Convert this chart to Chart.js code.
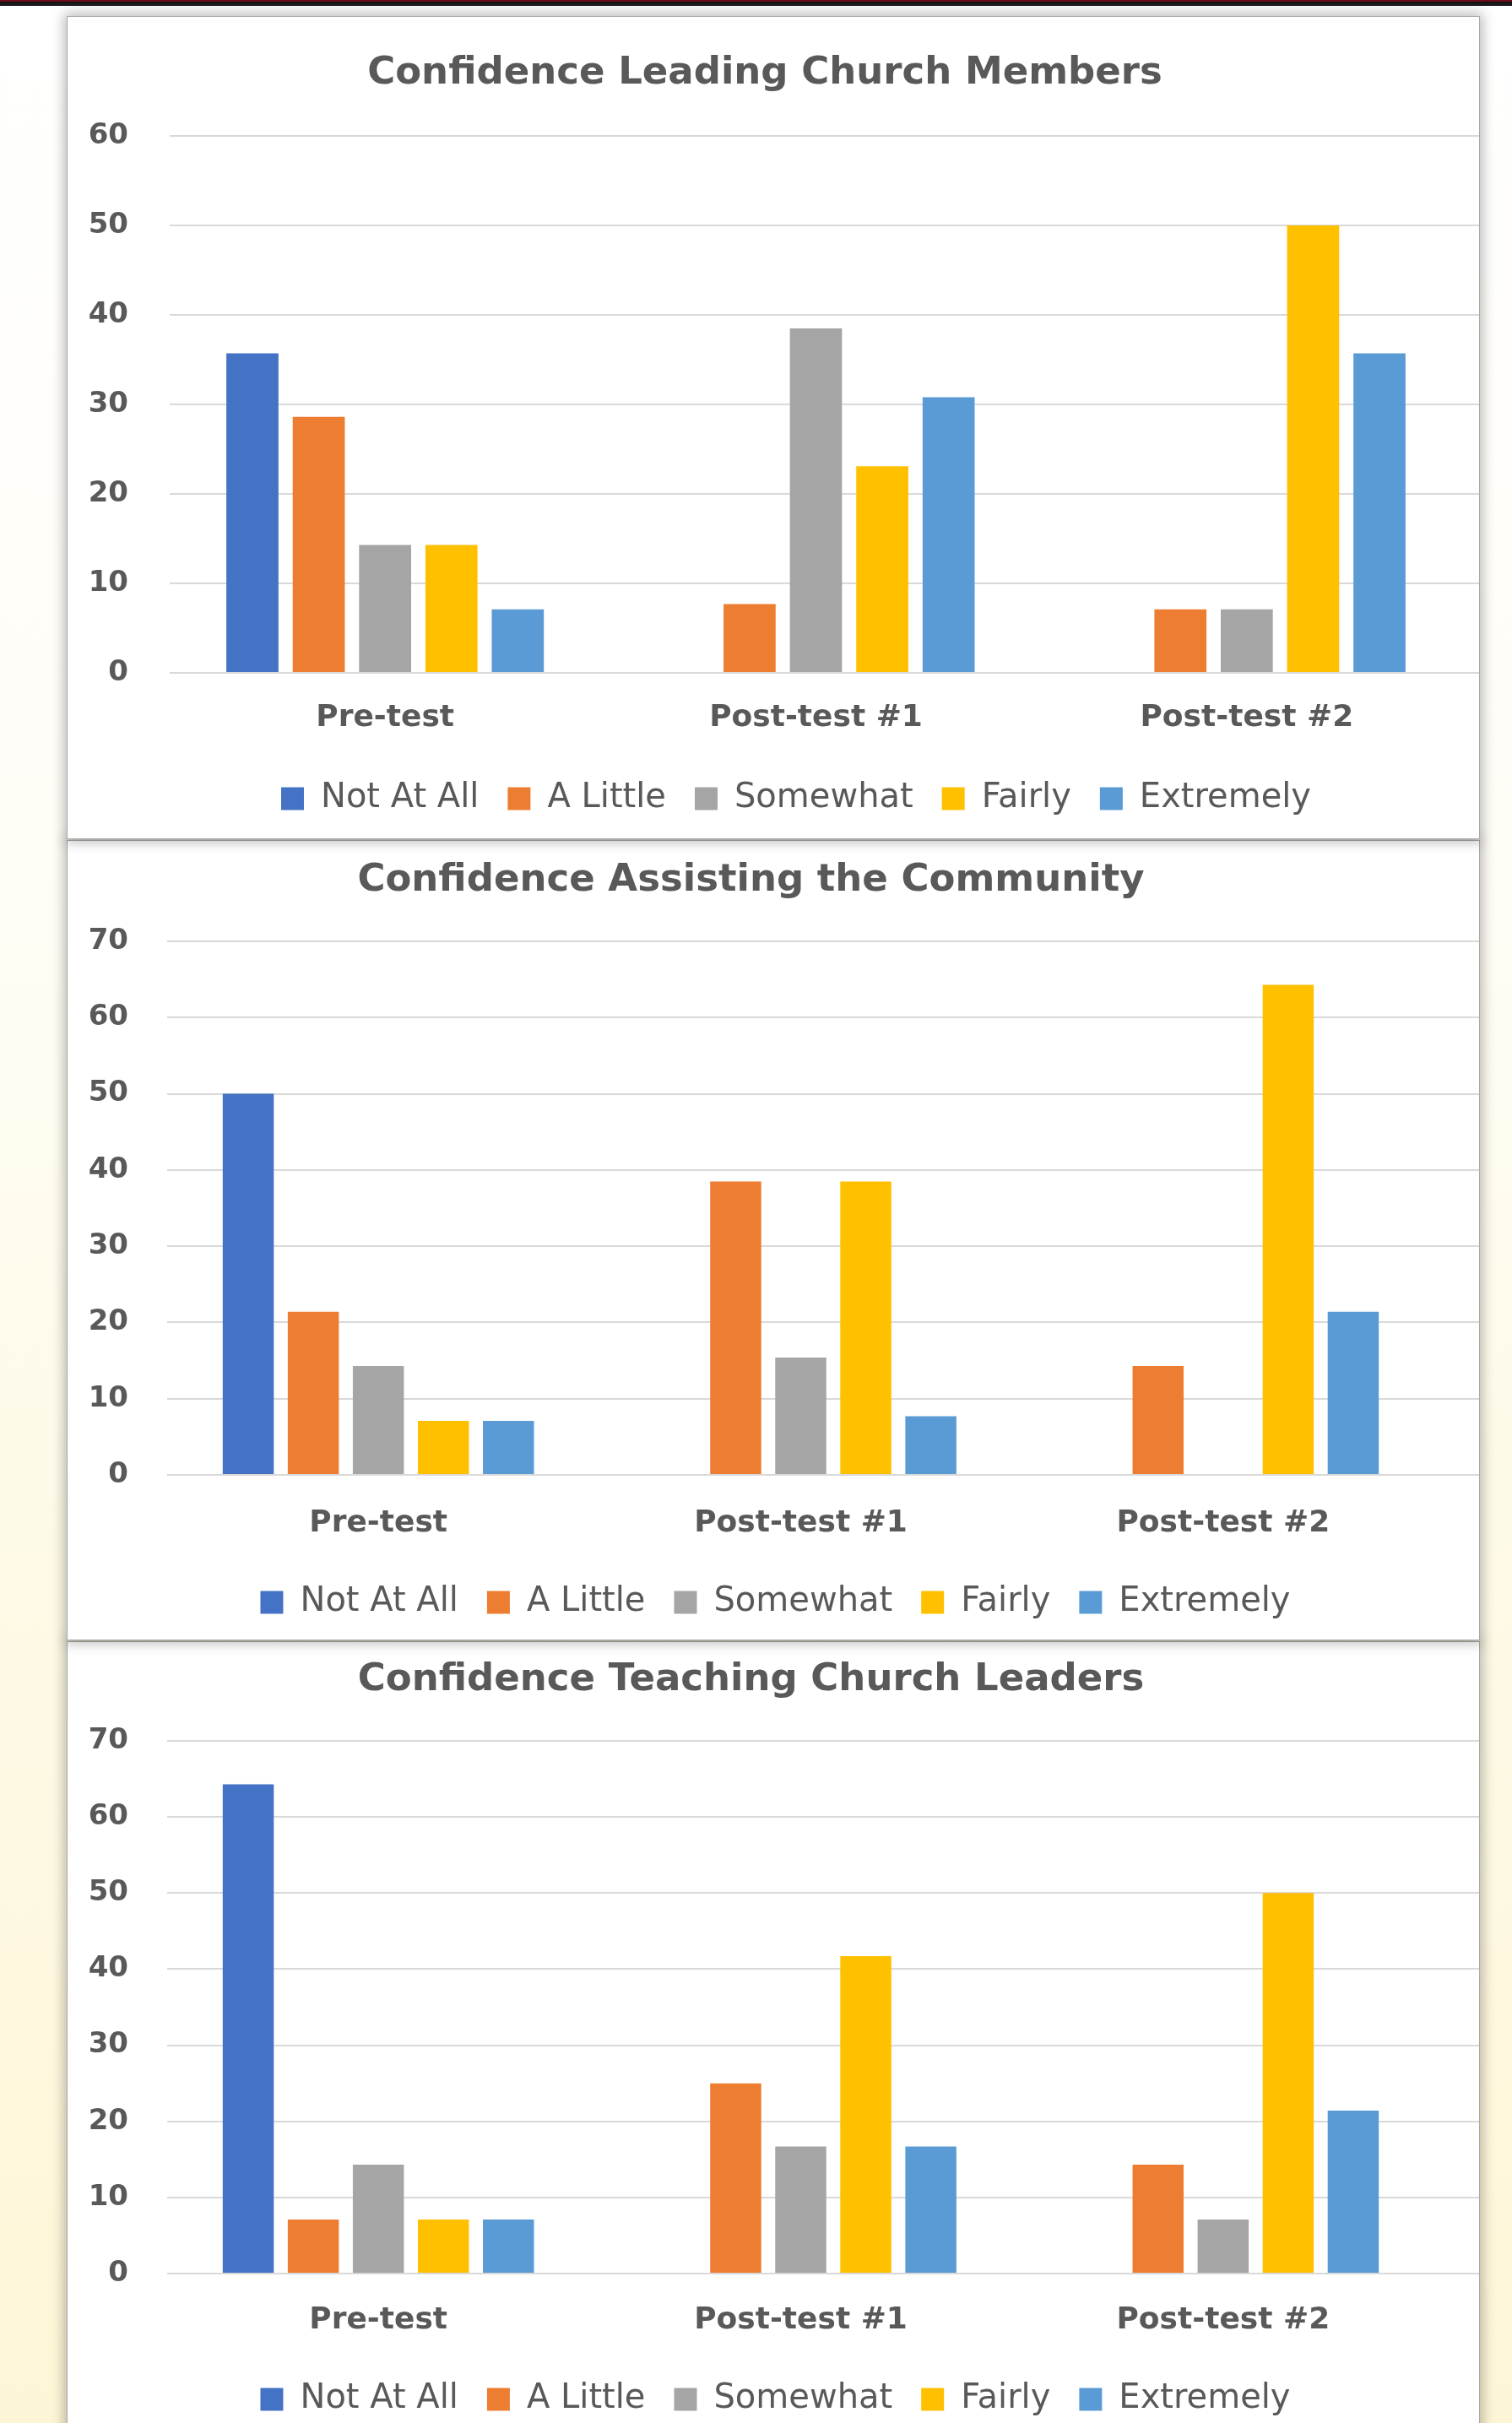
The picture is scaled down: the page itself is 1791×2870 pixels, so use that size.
<!DOCTYPE html>
<html>
<head>
<meta charset="utf-8">
<script src="https://cdn.jsdelivr.net/npm/chart.js@4.4.1/dist/chart.umd.min.js"></script>
<style>
  html, body { margin: 0; padding: 0; }
  body {
    width: 1791px; height: 2870px; overflow: hidden; position: relative;
    background: linear-gradient(to bottom, #ffffff 0%, #fffdf6 35%, #fdf6d6 100%);
    font-family: "DejaVu Sans", sans-serif;
  }
  .topbar {
    position: absolute; left: 0; top: 0; width: 1791px; height: 7px;
    background: linear-gradient(to bottom, #6b0b1c 0, #6b0b1c 2px, #111 2px, #222 7px);
    z-index: 10;
  }
  .panel {
    position: absolute; left: 80px; width: 1672px; background: #fff;
    box-shadow: 0 0 0 1px #a9a9a9, 0 0 14px 4px rgba(0,0,0,0.28);
  }
  .panel canvas { display: block; }
</style>
</head>
<body>
<div class="topbar"></div>
<div class="panel" id="p1" style="top:20px;height:973px;z-index:3"><canvas id="c1" width="1672" height="973"></canvas></div>
<div class="panel" id="p2" style="top:996px;height:946px;z-index:2"><canvas id="c2" width="1672" height="946"></canvas></div>
<div class="panel" id="p3" style="top:1945px;height:950px;z-index:1"><canvas id="c3" width="1672" height="950"></canvas></div>
<script>
// categories and series
const categories = ['Pre-test', 'Post-test #1', 'Post-test #2'];
const seriesNames = ['Not At All', 'A Little', 'Somewhat', 'Fairly', 'Extremely'];
const seriesColors = ['#4472C4', '#ED7D31', '#A5A5A5', '#FFC000', '#5B9BD5'];

// Confidence Leading Church Members (per series: pre, post1, post2)
const leadNotAtAll = [35.7, 0, 0];
const leadALittle = [28.6, 7.7, 7.1];
const leadSomewhat = [14.3, 38.5, 7.1];
const leadFairly = [14.3, 23.1, 50.0];
const leadExtremely = [7.1, 30.8, 35.7];

// Confidence Assisting the Community
const assistNotAtAll = [50.0, 0, 0];
const assistALittle = [21.4, 38.5, 14.3];
const assistSomewhat = [14.3, 15.4, 0];
const assistFairly = [7.1, 38.5, 64.3];
const assistExtremely = [7.1, 7.7, 21.4];

// Confidence Teaching Church Leaders
const teachNotAtAll = [64.3, 0, 0];
const teachALittle = [7.1, 25.0, 14.3];
const teachSomewhat = [14.3, 16.7, 7.1];
const teachFairly = [7.1, 41.7, 50.0];
const teachExtremely = [7.1, 16.7, 21.4];

const yTicks1 = [0, 10, 20, 30, 40, 50, 60];
const yTicks2 = [0, 10, 20, 30, 40, 50, 60, 70];

const textColor = '#595959';
const gridColor = '#d9d9d9';

// stretch the horizontal gridlines out to the panel edge, like the original
const gridToEdge = {
  id: 'gridToEdge',
  beforeDatasetsDraw(chart) {
    const y = chart.scales.y;
    const ctx = chart.ctx;
    ctx.save();
    ctx.strokeStyle = gridColor;
    ctx.lineWidth = 2;
    y.ticks.forEach(t => {
      const py = Math.round(y.getPixelForValue(t.value));
      ctx.beginPath();
      ctx.moveTo(chart.chartArea.right, py);
      ctx.lineTo(chart.width, py);
      ctx.stroke();
    });
    ctx.restore();
  }
};

// nudge the legend sideways (the original isn't centred on the canvas)
const legendShift = {
  id: 'legendShift',
  afterLayout(chart, args, opts) {
    if (chart.legend) {
      chart.legend.left += opts.dx;
      chart.legend.right += opts.dx;
    }
  }
};

function makeChart(id, title, values, yMax, lay) {
  const ctx = document.getElementById(id).getContext('2d');
  return new Chart(ctx, {
    type: 'bar',
    data: {
      labels: categories,
      datasets: seriesNames.map((name, i) => ({
        label: name,
        data: values[i],
        backgroundColor: seriesColors[i],
        borderWidth: 0,
        categoryPercentage: 0.77,
        barPercentage: 0.785
      }))
    },
    options: {
      responsive: false,
      animation: false,
      devicePixelRatio: 1,
      layout: { padding: { top: 0, left: 0, right: lay.padRight, bottom: lay.padBottom } },
      plugins: {
        title: {
          display: true,
          text: title,
          color: textColor,
          font: { family: 'DejaVu Sans', size: 45, weight: 'bold' },
          padding: { top: lay.titleTop, bottom: lay.titleBottom }
        },
        legend: {
          position: 'bottom',
          labels: {
            color: textColor,
            font: { family: 'DejaVu Sans', size: 40 },
            boxWidth: 27,
            boxHeight: 27,
            padding: 34
          }
        },
        legendShift: { dx: lay.legendDx },
        tooltip: { enabled: false }
      },
      scales: {
        x: {
          grid: { display: false, drawTicks: false },
          border: { display: false },
          ticks: {
            color: textColor,
            font: { family: 'DejaVu Sans', size: 36, weight: 'bold' },
            padding: lay.xPad
          },
          afterFit(scale) { scale.height = lay.xHeight; }
        },
        y: {
          min: 0,
          max: yMax,
          grid: { color: gridColor, lineWidth: 2, drawTicks: false },
          border: { display: false },
          ticks: {
            stepSize: 10,
            color: textColor,
            font: { family: 'DejaVu Sans', size: 34, weight: 'bold' },
            padding: lay.yPad
          },
          afterFit(scale) { scale.width = lay.yWidth; }
        }
      }
    },
    plugins: [gridToEdge, legendShift]
  });
}

makeChart('c1', 'Confidence Leading Church Members',
  [leadNotAtAll, leadALittle, leadSomewhat, leadFairly, leadExtremely],
  yTicks1[yTicks1.length - 1],
  { titleTop: 40, titleBottom: 47, padBottom: 17, padRight: 20, xHeight: 95, xPad: 32, yWidth: 121, yPad: 49, legendDx: 37 });

makeChart('c2', 'Confidence Assisting the Community',
  [assistNotAtAll, assistALittle, assistSomewhat, assistFairly, assistExtremely],
  yTicks2[yTicks2.length - 1],
  { titleTop: 20, titleBottom: 45, padBottom: 14, padRight: 53, xHeight: 97, xPad: 36, yWidth: 118, yPad: 46, legendDx: 29 });

makeChart('c3', 'Confidence Teaching Church Leaders',
  [teachNotAtAll, teachALittle, teachSomewhat, teachFairly, teachExtremely],
  yTicks2[yTicks2.length - 1],
  { titleTop: 18, titleBottom: 45, padBottom: 23, padRight: 53, xHeight: 95, xPad: 34, yWidth: 118, yPad: 46, legendDx: 29 });
</script>
</body>
</html>
